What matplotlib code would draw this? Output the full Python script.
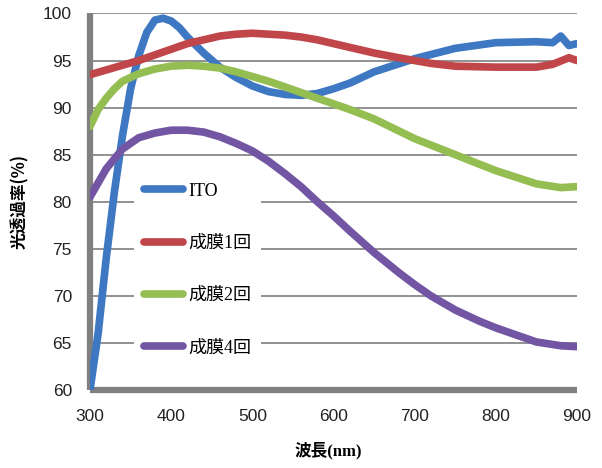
import matplotlib
matplotlib.use("Agg")
import matplotlib.pyplot as plt
from matplotlib.font_manager import FontProperties

# transmittance curves (wavelength nm, %)
ito_x = [300, 310, 320, 330, 340, 350, 360, 370, 380, 390, 400, 410, 420, 440, 460, 480,
         500, 520, 540, 560, 580, 600, 620, 650, 700, 750, 800, 850, 870, 880, 890, 900]
ito_y = [60.0, 66.0, 74.0, 81.0, 87.0, 92.0, 95.5, 98.0, 99.3, 99.5, 99.2, 98.5, 97.5, 95.8, 94.3, 93.2,
         92.3, 91.7, 91.4, 91.3, 91.5, 92.0, 92.6, 93.8, 95.2, 96.3, 96.9, 97.0, 96.9, 97.6, 96.6, 96.8]

f1_x = [300, 320, 340, 360, 380, 400, 420, 440, 460, 480, 500, 520, 540, 560, 580, 600,
        620, 650, 680, 700, 720, 750, 800, 850, 870, 890, 900]
f1_y = [93.5, 94.0, 94.5, 95.0, 95.6, 96.2, 96.8, 97.2, 97.6, 97.8, 97.9, 97.8, 97.7, 97.5, 97.2, 96.8,
        96.4, 95.8, 95.3, 95.0, 94.7, 94.4, 94.3, 94.3, 94.6, 95.3, 95.0]

f2_x = [300, 310, 320, 330, 340, 360, 380, 400, 420, 440, 460, 480, 500, 520, 540, 560,
        580, 600, 620, 650, 700, 750, 800, 850, 880, 900]
f2_y = [88.0, 89.8, 91.0, 92.0, 92.8, 93.6, 94.1, 94.4, 94.5, 94.4, 94.2, 93.8, 93.3, 92.8, 92.2, 91.6,
        91.0, 90.4, 89.8, 88.8, 86.7, 85.0, 83.3, 81.9, 81.5, 81.6]

f4_x = [300, 310, 320, 340, 360, 380, 400, 420, 440, 460, 480, 500, 520, 540, 560, 580,
        600, 620, 650, 680, 700, 720, 750, 780, 800, 850, 880, 900]
f4_y = [80.5, 82.0, 83.5, 85.6, 86.8, 87.3, 87.6, 87.6, 87.4, 86.9, 86.2, 85.4, 84.3, 83.0, 81.6, 80.0,
        78.5, 76.9, 74.6, 72.5, 71.2, 70.0, 68.5, 67.3, 66.6, 65.1, 64.7, 64.6]

labels = ["ITO", "成膜1回", "成膜2回", "成膜4回"]
colors = ["#3f78c2", "#c0464a", "#94bd52", "#7356a3"]
x_ticks = [300, 400, 500, 600, 700, 800, 900]
y_ticks = [60, 65, 70, 75, 80, 85, 90, 95, 100]

fig = plt.figure(figsize=(6.02, 4.68), dpi=100)
ax = fig.add_axes([0.1495, 0.1667, 0.809, 0.8045])

series = [(ito_x, ito_y), (f1_x, f1_y), (f2_x, f2_y), (f4_x, f4_y)]
for (xs, ys), lab, c in zip(series, labels, colors):
    ax.plot(xs, ys, color=c, lw=5.5, label=lab, solid_capstyle="round", solid_joinstyle="round", zorder=3)

ax.set_xlim(300, 900)
ax.set_ylim(60, 100)
ax.set_xticks(x_ticks)
ax.set_yticks(y_ticks)
ax.grid(axis="y", color="#888888", lw=1.3, zorder=0)
ax.set_axisbelow(True)

for s in ["top", "right"]:
    ax.spines[s].set_visible(False)
for s in ["left", "bottom"]:
    ax.spines[s].set_color("#808080")
    ax.spines[s].set_linewidth(4.5)
    ax.spines[s].set_capstyle("butt")

tick_font = FontProperties(family=["Liberation Sans", "DejaVu Sans"], size=12.5)
ax.tick_params(axis="both", length=0)
ax.tick_params(axis="x", pad=14)
ax.tick_params(axis="y", pad=13)
for t in ax.get_xticklabels() + ax.get_yticklabels():
    t.set_fontproperties(tick_font)
    t.set_color("#222222")

ax.set_ylabel("光透過率(%)", fontsize=12, fontweight="bold",
              family=["Noto Sans CJK JP", "DejaVu Sans"])
ax.yaxis.set_label_coords(-0.125, 0.5)
ax.set_xlabel("波長(nm)", fontsize=12, fontweight="bold",
              family=["Liberation Serif", "Noto Sans CJK JP"])
ax.xaxis.set_label_coords(0.49, -0.138)

leg_font = FontProperties(family=["Liberation Serif", "Noto Sans CJK JP"], size=13)
leg = ax.legend(loc="center left", bbox_to_anchor=(0.09, 0.32), prop=leg_font,
                frameon=True, fancybox=False, facecolor="white", edgecolor="none",
                framealpha=1, borderpad=0.55, borderaxespad=0,
                handlelength=2.2, handletextpad=0.25, labelspacing=1.95)
for h in leg.legend_handles:
    h.set_linewidth(5.5)

fig.savefig("out.png", dpi=100, facecolor="white")
